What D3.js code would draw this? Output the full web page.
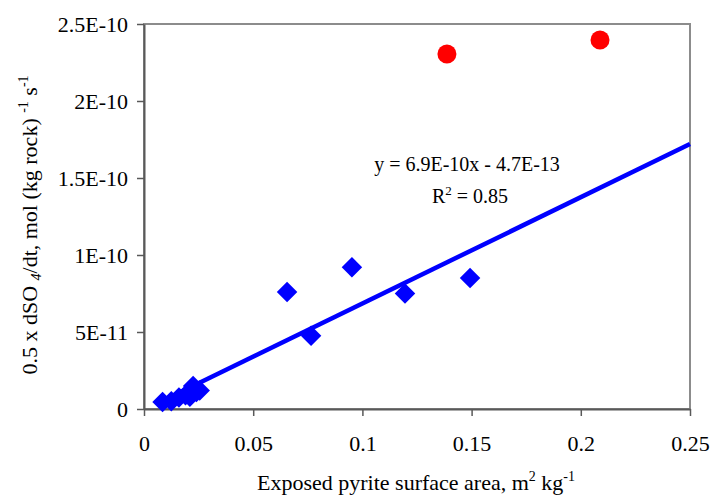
<!DOCTYPE html>
<html>
<head>
<meta charset="utf-8">
<script src="https://cdn.jsdelivr.net/npm/d3@7"></script>
<style>
  body { margin: 0; background: #fff; }
  svg { display: block; font-family: "Liberation Serif", "Times New Roman", serif; }
</style>
</head>
<body>
<svg id="chart"></svg>
<script>
// Measured series (surface area m2/kg, rate mol/(kg rock)/s)
const blueX = [0.0085, 0.0125, 0.016, 0.019, 0.021, 0.0225, 0.024, 0.0255, 0.0655, 0.0765, 0.0952, 0.1195, 0.1493];
const blueY = [0.45e-11, 0.5e-11, 0.75e-11, 0.9e-11, 0.8e-11, 1.5e-11, 1.1e-11, 1.2e-11, 7.6e-11, 4.75e-11, 9.2e-11, 7.5e-11, 8.5e-11];
const redX = [0.1387, 0.2088];
const redY = [2.305e-10, 2.396e-10];

// Linear fit shown on the chart
const trendSlope = 6.9e-10;
const trendIntercept = -4.7e-13;
const trendRange = [0.0085, 0.25];

const xTicks = [0, 0.05, 0.1, 0.15, 0.2, 0.25];
const xTickLabels = ["0", "0.05", "0.1", "0.15", "0.2", "0.25"];
const yTicks = [0, 5e-11, 1e-10, 1.5e-10, 2e-10, 2.5e-10];
const yTickLabels = ["0", "5E-11", "1E-10", "1.5E-10", "2E-10", "2.5E-10"];

const width = 710, height = 496;
const plot = { left: 144, right: 690, top: 24, bottom: 409 };

const svg = d3.select("#chart")
  .attr("width", width)
  .attr("height", height);

const x = d3.scaleLinear().domain([0, 0.25]).range([plot.left, plot.right]);
const y = d3.scaleLinear().domain([0, 2.5e-10]).range([plot.bottom, plot.top]);

// plot frame
svg.append("rect")
  .attr("x", plot.left)
  .attr("y", plot.top)
  .attr("width", plot.right - plot.left)
  .attr("height", plot.bottom - plot.top)
  .attr("fill", "none")
  .attr("stroke", "#8c8c8c")
  .attr("stroke-width", 2);

// axes
const xAxis = svg.append("g")
  .attr("transform", `translate(0, ${plot.bottom})`)
  .call(d3.axisBottom(x).tickValues(xTicks).tickSize(7).tickSizeOuter(0)
    .tickFormat((d, i) => xTickLabels[i]));

const yAxis = svg.append("g")
  .attr("transform", `translate(${plot.left}, 0)`)
  .call(d3.axisLeft(y).tickValues(yTicks).tickSize(7).tickSizeOuter(0)
    .tickFormat((d, i) => yTickLabels[i]));

[xAxis, yAxis].forEach(g => {
  g.select(".domain").attr("stroke", "#595959").attr("stroke-width", 2);
  g.selectAll(".tick line").attr("stroke", "#595959").attr("stroke-width", 1.5);
  g.selectAll(".tick text")
    .attr("fill", "#000")
    .style("font-family", "Liberation Serif")
    .style("font-size", "22px");
});
xAxis.selectAll(".tick text").attr("dy", "0").attr("y", 42);
yAxis.selectAll(".tick text").attr("x", -16).attr("dy", "0.35em");

// points
svg.append("g")
  .selectAll("path")
  .data(blueX.map((v, i) => [v, blueY[i]]))
  .enter()
  .append("path")
  .attr("d", d3.symbol(d3.symbolSquare, 210))
  .attr("transform", d => `translate(${x(d[0])}, ${y(d[1])}) rotate(45)`)
  .attr("fill", "#0000ff");

svg.append("g")
  .selectAll("circle")
  .data(redX.map((v, i) => [v, redY[i]]))
  .enter()
  .append("circle")
  .attr("cx", d => x(d[0]))
  .attr("cy", d => y(d[1]))
  .attr("r", 9.5)
  .attr("fill", "#ff0000");

// trend line
svg.append("line")
  .attr("x1", x(trendRange[0]))
  .attr("y1", y(trendSlope * trendRange[0] + trendIntercept))
  .attr("x2", x(trendRange[1]))
  .attr("y2", y(trendSlope * trendRange[1] + trendIntercept))
  .attr("stroke", "#0000ff")
  .attr("stroke-width", 4.5);

// equation
const eq = svg.append("g").style("font-size", "20px");
eq.append("text")
  .attr("x", 467).attr("y", 171)
  .attr("text-anchor", "middle")
  .text("y = 6.9E-10x - 4.7E-13");
const r2 = eq.append("text")
  .attr("x", 470).attr("y", 203)
  .attr("text-anchor", "middle");
r2.append("tspan").text("R");
r2.append("tspan").attr("dy", -8).style("font-size", "13px").text("2");
r2.append("tspan").attr("dy", 8).text(" = 0.85");

// x axis title
const xt = svg.append("text")
  .attr("x", 416).attr("y", 490)
  .attr("text-anchor", "middle")
  .style("font-size", "22px");
xt.append("tspan").text("Exposed pyrite surface area, m");
xt.append("tspan").attr("dy", -9).style("font-size", "14px").text("2");
xt.append("tspan").attr("dy", 9).text(" kg");
xt.append("tspan").attr("dy", -9).style("font-size", "14px").text("-1");

// y axis title
const yt = svg.append("text")
  .attr("transform", "translate(37, 225) rotate(-90)")
  .attr("text-anchor", "middle")
  .style("font-size", "22px");
yt.append("tspan").text("0.5 x dSO ");
yt.append("tspan").attr("dy", 4).style("font-size", "14px").style("font-style", "italic").text("4");
yt.append("tspan").attr("dy", -4).text("/dt, mol (kg rock)  ");
yt.append("tspan").attr("dy", -9).style("font-size", "14px").text("-1");
yt.append("tspan").attr("dy", 9).text("  s");
yt.append("tspan").attr("dy", -9).style("font-size", "14px").text("-1");
</script>
</body>
</html>
